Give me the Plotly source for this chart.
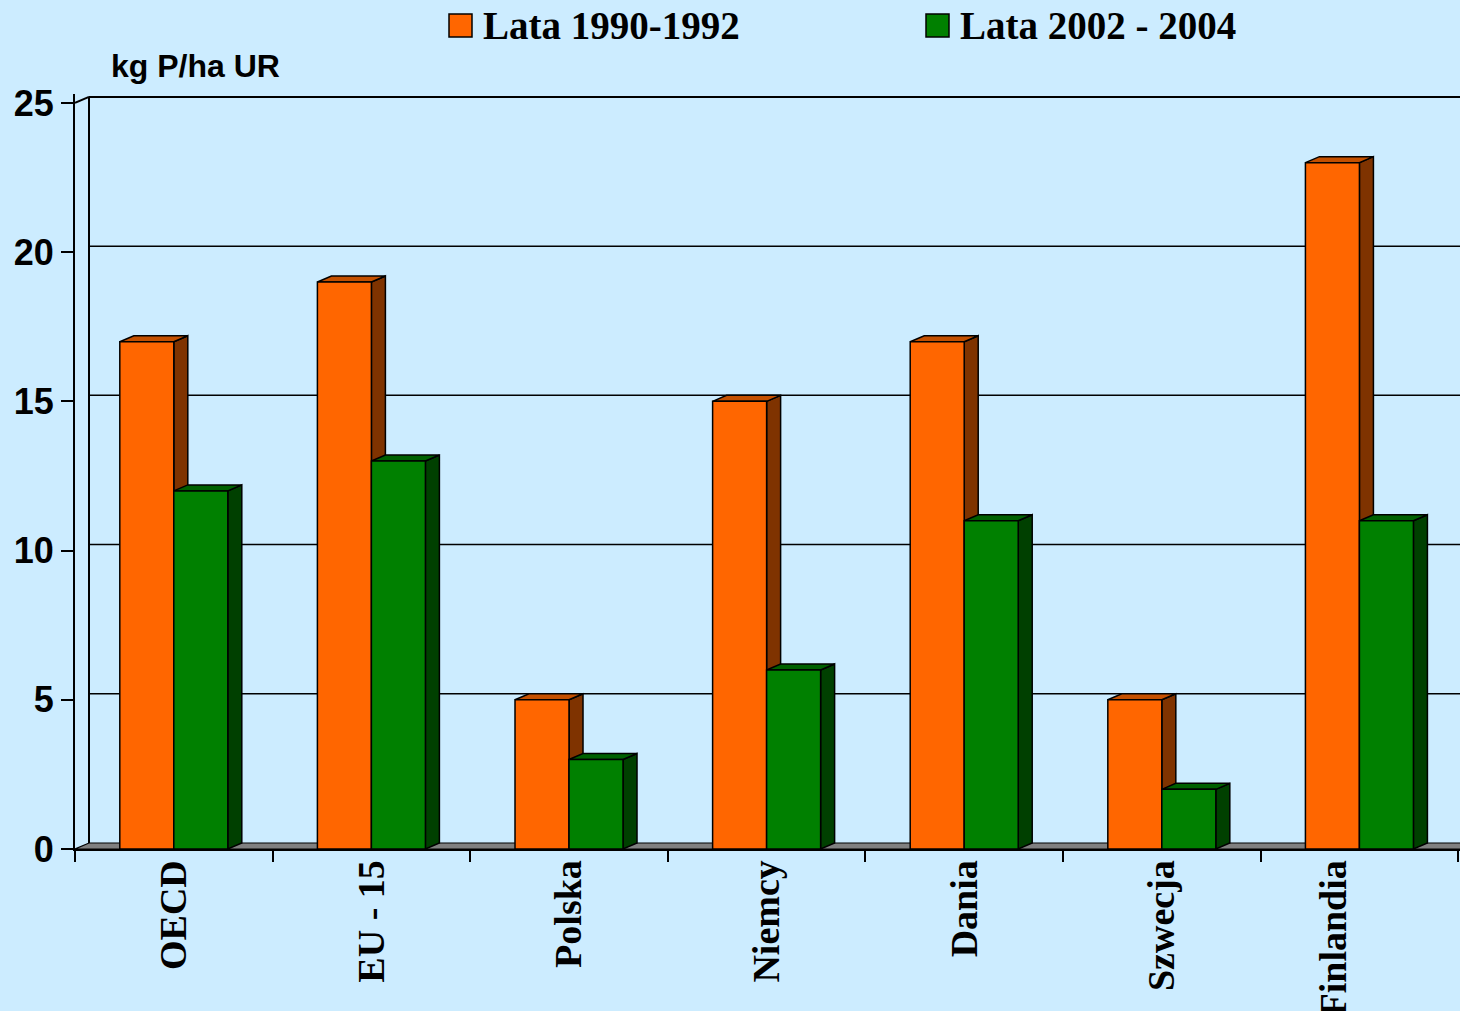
import plotly.graph_objects as go

# Phosphorus balance surplus, kg P per ha of agricultural land
categories = ["OECD", "EU - 15", "Polska", "Niemcy", "Dania", "Szwecja", "Finlandia"]
series_names = ["Lata 1990-1992", "Lata 2002 - 2004"]
values_1990_1992 = [17, 19, 5, 15, 17, 5, 23]
values_2002_2004 = [12, 13, 3, 6, 11, 2, 11]
y_ticks = [0, 5, 10, 15, 20, 25]
y_title = "kg P/ha UR"

front_colors = ["#FF6600", "#008000"]
side_colors = ["#7F3300", "#004000"]
top_colors = ["#C45000", "#006000"]

W, H = 1460, 1011
M_L, M_R, M_T, M_B = 75, 0, 94, 162
X_MAX = 7.009
Y_MAX = 25.3
PW = W - M_L - M_R
PH = H - M_T - M_B
px_per_x = PW / X_MAX
px_per_y = PH / Y_MAX

# depth of the pseudo-3D extrusion, in axis units
DX = 14 / px_per_x
DY = 6 / px_per_y
BAR_W = 54 / px_per_x
BG = "#CCECFF"
EDGE = dict(color="black", width=1.5)
# the last category label is pulled in so it stays inside the page
LAST_LABEL_PULL = 26 / px_per_x


def paper_x(px):
    return (px - M_L) / PW


def paper_y(py):
    return (H - M_B - py) / PH


fig = go.Figure()


def poly(xs, ys, color, line=EDGE):
    fig.add_trace(go.Scatter(
        x=xs + [xs[0]], y=ys + [ys[0]], mode="lines", fill="toself",
        fillcolor=color, line=line, hoverinfo="skip", showlegend=False))


# floor strip along the category axis
poly([0, DX, X_MAX + 1, X_MAX + 1], [0, DY, DY, 0], "#808080",
     line=dict(color="black", width=1.2))

# back wall: gridlines, left edge and corner joints
for v in y_ticks[1:]:
    fig.add_trace(go.Scatter(
        x=[DX, X_MAX + 1], y=[v + DY, v + DY], mode="lines",
        line=dict(color="black", width=2 if v == y_ticks[-1] else 1.5),
        hoverinfo="skip", showlegend=False))
fig.add_trace(go.Scatter(
    x=[DX, DX], y=[DY, y_ticks[-1] + DY], mode="lines",
    line=dict(color="black", width=2), hoverinfo="skip", showlegend=False))
fig.add_trace(go.Scatter(
    x=[0, DX], y=[y_ticks[-1], y_ticks[-1] + DY], mode="lines",
    line=dict(color="black", width=2), hoverinfo="skip", showlegend=False))

# bars: side, top and front faces, drawn back to front within each group
series = [values_1990_1992, values_2002_2004]
for i in range(len(categories)):
    center = i + 0.5
    for s, vals in enumerate(series):
        v = vals[i]
        xl = center - BAR_W if s == 0 else center
        xr = xl + BAR_W
        poly([xr, xr + DX, xr + DX, xr], [0, DY, v + DY, v], side_colors[s])
        poly([xl, xl + DX, xr + DX, xr], [v, v + DY, v + DY, v], top_colors[s])
        fig.add_trace(go.Scatter(
            x=[xl, xr, xr, xl, xl], y=[0, 0, v, v, 0], mode="lines",
            fill="toself", fillcolor=front_colors[s], line=EDGE,
            name=series_names[s], text=[categories[i]] * 5,
            hovertemplate="%{text}: " + str(v) + "<extra>" + series_names[s] + "</extra>",
            showlegend=False))

# separate axis carrying the group boundary ticks
fig.add_trace(go.Scatter(x=[0], y=[0], xaxis="x2", mode="markers",
                         marker=dict(opacity=0), hoverinfo="skip",
                         showlegend=False))

label_pos = [i + 0.5 for i in range(len(categories))]
label_pos[-1] -= LAST_LABEL_PULL

fig.update_layout(
    width=W, height=H,
    margin=dict(l=M_L, r=M_R, t=M_T, b=M_B, autoexpand=False),
    paper_bgcolor=BG, plot_bgcolor=BG,
    showlegend=False,
    xaxis=dict(
        range=[0, X_MAX], tickmode="array",
        tickvals=label_pos, automargin=False,
        ticktext=categories, tickangle=-90, ticks="",
        ticklabelstandoff=-6,
        tickfont=dict(family="Liberation Serif", size=38, color="black",
                      weight="bold"),
        showgrid=False, zeroline=False,
        showline=True, linecolor="black", linewidth=2),
    xaxis2=dict(
        range=[0, X_MAX], overlaying="x", anchor="y", side="bottom",
        tickmode="array", tickvals=list(range(len(categories) + 1)),
        showticklabels=False, ticks="outside", ticklen=12, tickwidth=2,
        automargin=False,
        tickcolor="black", showgrid=False, zeroline=False, showline=False),
    yaxis=dict(
        range=[0, Y_MAX], tickmode="array", tickvals=y_ticks,
        ticks="outside", ticklen=12, tickwidth=2, tickcolor="black",
        automargin=False,
        tickfont=dict(family="Liberation Sans", size=36, color="black",
                      weight="bold"),
        showgrid=False, zeroline=False,
        showline=True, linecolor="black", linewidth=2),
)

# axis unit label
fig.add_annotation(
    text=y_title, xref="paper", yref="paper",
    x=paper_x(109), y=paper_y(66), xanchor="left", yanchor="middle",
    showarrow=False,
    font=dict(family="Liberation Sans", size=32, color="black", weight="bold"))

# legend row
legend_x = [449, 926]
for s, name in enumerate(series_names):
    x0 = legend_x[s]
    fig.add_shape(type="rect", xref="paper", yref="paper",
                  x0=paper_x(x0), x1=paper_x(x0 + 23),
                  y0=paper_y(37), y1=paper_y(14),
                  fillcolor=front_colors[s], line=dict(color="black", width=1.5))
    fig.add_annotation(
        text=name, xref="paper", yref="paper",
        x=paper_x(x0 + 32), y=paper_y(25), xanchor="left", yanchor="middle",
        showarrow=False,
        font=dict(family="Liberation Serif", size=39, color="black",
                  weight="bold"))

fig.write_html("out.html")
